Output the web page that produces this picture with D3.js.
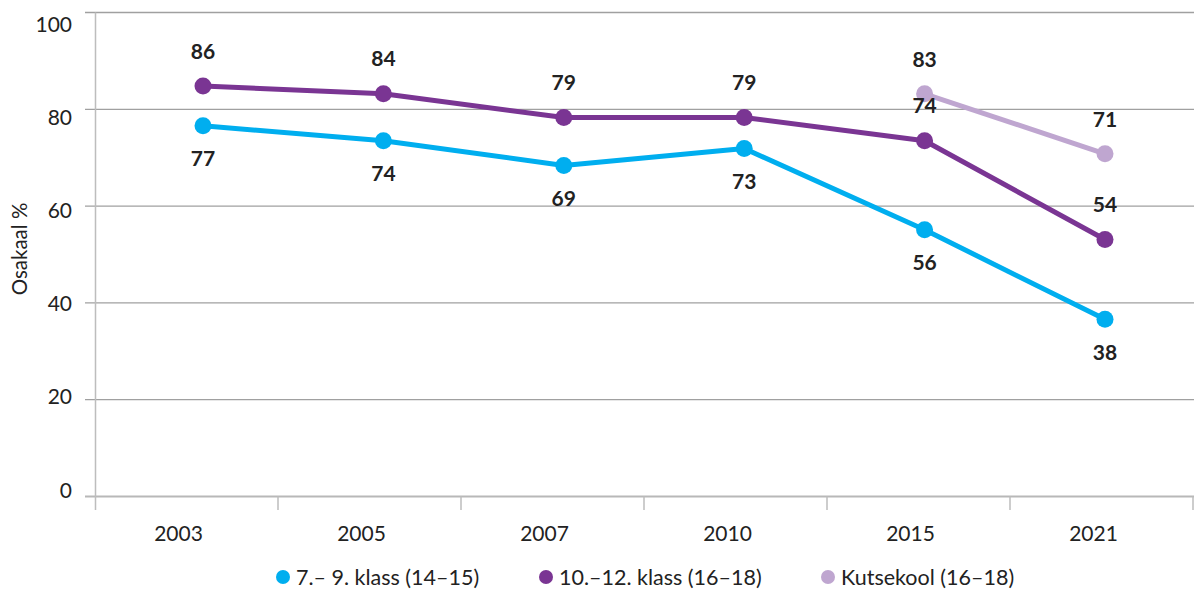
<!DOCTYPE html>
<html>
<head>
<meta charset="utf-8">
<script src="https://cdn.jsdelivr.net/npm/d3@7/dist/d3.min.js"></script>
<style>
  html, body { margin: 0; padding: 0; background: #fff; }
  svg { display: block; }
  text { font-family: Lato, "Open Sans", sans-serif; fill: #222; }
</style>
</head>
<body>
<svg id="chart" width="1194" height="590"></svg>
<script>
// ---- data ----
const years = ["2003", "2005", "2007", "2010", "2015", "2021"];
const seriesNames = ["7.– 9. klass (14–15)", "10.–12. klass (16–18)", "Kutsekool (16–18)"];
const basicValues = [76.6, 73.5, 68.4, 71.9, 55.1, 36.6];
const upperValues = [84.8, 83.2, 78.3, 78.3, 73.5, 53.1];
const vocationalValues = [null, null, null, null, 83.2, 70.8];
const basicLabels = [77, 74, 69, 73, 56, 38];
const upperLabels = [86, 84, 79, 79, 74, 54];
const vocationalLabels = [null, null, null, null, 83, 71];
const yTicks = [0, 20, 40, 60, 80, 100];
const yTitle = "Osakaal %";

// ---- setup ----
const W = 1194, H = 590;
const svg = d3.select("#chart");
const colors = ["#00AEEF", "#7A3593", "#BFA6D0"];

const xBand = d3.scaleBand().domain(years).range([95, 1193]);
const xPoint = d3.scalePoint().domain(years).range([203, 1105]);
const y = d3.scaleLinear().domain([0, 100]).range([496.5, 12.5]);
const yLab = d3.scaleLinear().domain([0, 100]).range([490, 24]);

// gridlines
svg.append("g").selectAll("line").data(yTicks).join("line")
  .attr("x1", 85).attr("x2", W)
  .attr("y1", d => y(d)).attr("y2", d => y(d))
  .attr("stroke", d => d === 0 ? "#b8b8b8" : "#a0a0a0")
  .attr("stroke-width", d => d === 0 ? 2 : 1.3);

// y axis line
svg.append("line").attr("x1", 95.5).attr("x2", 95.5)
  .attr("y1", y(100)).attr("y2", 510)
  .attr("stroke", "#bdbdbd").attr("stroke-width", 1.5);

// x ticks at band boundaries
const boundaries = years.map(d => xBand(d)).concat([xBand(years[years.length - 1]) + xBand.bandwidth()]);
svg.append("g").selectAll("line").data(boundaries.slice(1)).join("line")
  .attr("x1", d => d).attr("x2", d => d)
  .attr("y1", y(0)).attr("y2", 510)
  .attr("stroke", "#bdbdbd").attr("stroke-width", 1.5);

// y tick labels
svg.append("g").selectAll("text").data(yTicks).join("text")
  .attr("x", 72).attr("y", d => yLab(d)).attr("dy", "0.36em")
  .attr("text-anchor", "end").style("font-size", "21px")
  .text(d => d);

// x tick labels
svg.append("g").selectAll("text").data(years).join("text")
  .attr("x", d => xBand(d) + xBand.bandwidth() / 2 - 8).attr("y", 533).attr("dy", "0.36em")
  .attr("text-anchor", "middle").style("font-size", "21px")
  .text(d => d);

// y title
svg.append("text").attr("transform", "translate(20,249) rotate(-90)")
  .attr("dy", "0.36em").attr("text-anchor", "middle").style("font-size", "20.5px")
  .text(yTitle);

// ---- series ----
const series = [
  { name: seriesNames[0], values: basicValues, labels: basicLabels, color: colors[0], off: 33 },
  { name: seriesNames[1], values: upperValues, labels: upperLabels, color: colors[1], off: -35 },
  { name: seriesNames[2], values: vocationalValues, labels: vocationalLabels, color: colors[2], off: -34 }
];

const line = d3.line()
  .defined(d => d.v != null)
  .x(d => xPoint(d.year)).y(d => y(d.v));

// draw in order: vocational, basic, upper
[series[2], series[0], series[1]].forEach(s => {
  const pts = years.map((yr, i) => ({ year: yr, v: s.values[i], lab: s.labels[i] }));
  const g = svg.append("g");
  g.append("path").datum(pts).attr("d", line)
    .attr("fill", "none").attr("stroke", s.color).attr("stroke-width", 5)
    .attr("stroke-linejoin", "round");
  g.selectAll("circle").data(pts.filter(p => p.v != null)).join("circle")
    .attr("cx", p => xPoint(p.year)).attr("cy", p => y(p.v)).attr("r", 8.5)
    .attr("fill", s.color);
  g.selectAll("text").data(pts.filter(p => p.v != null)).join("text")
    .attr("x", p => xPoint(p.year)).attr("y", p => y(p.v) + s.off).attr("dy", "0.36em")
    .attr("text-anchor", "middle").style("font-size", "21px").style("font-weight", "bold")
    .text(p => p.lab);
});

// ---- legend ----
const legendX = [283, 546, 828];
const legend = svg.append("g");
series.forEach((s, i) => {
  legend.append("circle").attr("cx", legendX[i]).attr("cy", 577).attr("r", 7).attr("fill", s.color);
  legend.append("text").attr("x", legendX[i] + 13).attr("y", 577).attr("dy", "0.36em")
    .style("font-size", "21.5px").text(s.name);
});
</script>
</body>
</html>
